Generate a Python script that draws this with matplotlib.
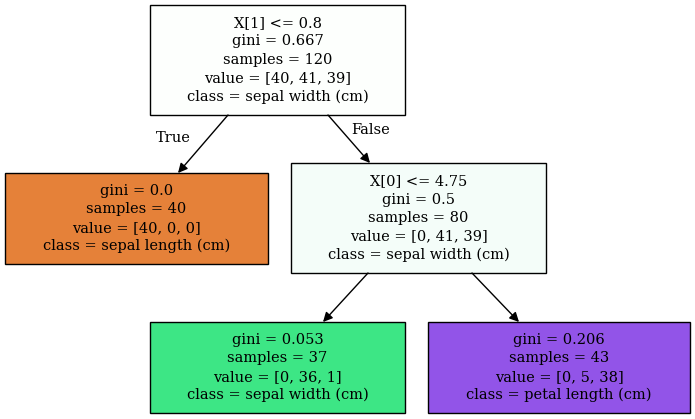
import matplotlib
matplotlib.use("Agg")
import matplotlib.pyplot as plt
from matplotlib.patches import Rectangle

# data
features = ["X[1] <= 0.8", None, "X[0] <= 4.75", None, None]
gini = [0.667, 0.0, 0.5, 0.053, 0.206]
samples = [120, 40, 80, 37, 43]
values = [[40, 41, 39], [40, 0, 0], [0, 41, 39], [0, 36, 1], [0, 5, 38]]
classes = ["sepal width (cm)", "sepal length (cm)", "sepal width (cm)",
           "sepal width (cm)", "petal length (cm)"]
colors = ["#fdfffd", "#e58139", "#f4fdf9", "#3de685", "#9254e8"]
edges = [(0, 1), (0, 2), (2, 3), (2, 4)]

# layout (pixels): x0, y0, x1, y1
boxes = [(150, 5, 405, 115), (5, 173, 268, 264), (291, 163, 546, 273),
         (150, 322, 405, 413), (428, 322, 690, 413)]
arrow_pts = {(0, 1): ((228, 115), (178, 173)), (0, 2): ((328, 115), (370, 163)),
             (2, 3): ((368, 273), (323, 322)), (2, 4): ((472, 273), (519, 322))}

fig = plt.figure(figsize=(6.95, 4.19), dpi=100)
ax = fig.add_axes([0, 0, 1, 1])
ax.set_xlim(0, 695)
ax.set_ylim(419, 0)
ax.axis("off")
font = dict(family="DejaVu Serif", fontsize=10.5)

for i, (x0, y0, x1, y1) in enumerate(boxes):
    ax.add_patch(Rectangle((x0, y0), x1 - x0, y1 - y0, facecolor=colors[i],
                           edgecolor="black", lw=1))
    lines = []
    if features[i]:
        lines.append(features[i])
    lines += [f"gini = {gini[i]}", f"samples = {samples[i]}",
              "value = [" + ", ".join(map(str, values[i])) + "]",
              f"class = {classes[i]}"]
    cy = (y0 + y1) / 2
    n = len(lines)
    for k, t in enumerate(lines):
        ax.text((x0 + x1) / 2, cy + (k - (n - 1) / 2) * 18.5, t,
                ha="center", va="center", **font)

for e in edges:
    (xa, ya), (xb, yb) = arrow_pts[e]
    ax.annotate("", xy=(xb, yb), xytext=(xa, ya),
                arrowprops=dict(arrowstyle="-|>", color="black", lw=1,
                                mutation_scale=14, shrinkA=0, shrinkB=0))

ax.text(173, 138, "True", ha="center", va="center", **font)
ax.text(371, 130, "False", ha="center", va="center", **font)

fig.savefig("out.png", dpi=100)
